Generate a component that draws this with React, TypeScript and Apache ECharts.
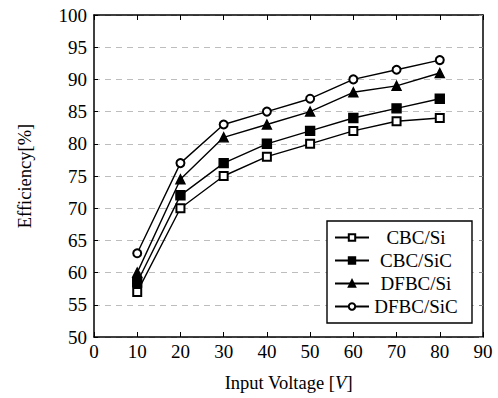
import React, { useEffect, useRef } from "react";
import * as echarts from "echarts";

const voltages = [10, 20, 30, 40, 50, 60, 70, 80];
const cbcSi = [57, 70, 75, 78, 80, 82, 83.5, 84];
const cbcSiC = [58.5, 72, 77, 80, 82, 84, 85.5, 87];
const dfbcSi = [60, 74.5, 81, 83, 85, 88, 89, 91];
const dfbcSiC = [63, 77, 83, 85, 87, 90, 91.5, 93];
const seriesNames = ["CBC/Si", "CBC/SiC", "DFBC/Si", "DFBC/SiC"];

const FONT = "Liberation Serif";
const FS = 19;

export default function App() {
  const ref = useRef<HTMLDivElement>(null);
  useEffect(() => {
    const chart = echarts.init(ref.current!, null, { renderer: "svg" });
    const mk = (name: string, data: number[], symbol: string, size: number) => ({
      name,
      type: "line",
      data: voltages.map((v, i) => [v, data[i]]),
      symbol,
      symbolSize: size,
      showSymbol: true,
      lineStyle: { color: "#000", width: 1.4 },
      itemStyle: { color: "#000", borderColor: "#000", borderWidth: 1.4 },
      emphasis: { disabled: true },
    });
    const axisLine = { show: true, onZero: false, lineStyle: { color: "#000", width: 1.5 } };
    chart.setOption({
      animation: false,
      backgroundColor: "#fff",
      grid: { left: 94, right: 15, top: 15, bottom: 61 },
      xAxis: [
        {
          type: "value",
          min: 0,
          max: 90,
          interval: 10,
          position: "bottom",
          axisLine,
          axisTick: { show: true, inside: true, length: 5, lineStyle: { color: "#000", width: 1 } },
          axisLabel: { color: "#000", fontFamily: FONT, fontSize: FS, margin: 5 },
          splitLine: { show: false },
          name: "{a|Input Voltage [}{i|V}{a|]}",
          nameLocation: "middle",
          nameGap: 36,
          nameTextStyle: {
            fontFamily: FONT,
            fontSize: 18.5,
            rich: {
              a: { color: "#000", fontFamily: FONT, fontSize: 18.5 },
              i: { color: "#000", fontFamily: FONT, fontSize: 18.5, fontStyle: "italic" },
            },
          },
        },
        {
          type: "value",
          min: 0,
          max: 90,
          interval: 10,
          position: "top",
          axisLine,
          axisTick: { show: true, inside: true, length: 5, lineStyle: { color: "#000", width: 1 } },
          axisLabel: { show: false },
          splitLine: { show: false },
        },
      ],
      yAxis: [
        {
          type: "value",
          min: 50,
          max: 100,
          interval: 5,
          position: "left",
          axisLine,
          axisTick: { show: true, inside: true, length: 4, lineStyle: { color: "#000", width: 1 } },
          axisLabel: { color: "#000", fontFamily: FONT, fontSize: FS, margin: 7 },
          splitLine: { show: true, lineStyle: { color: "#bdbdbd", type: [6, 5], width: 1 } },
          name: "Efficiency[%]",
          nameLocation: "middle",
          nameGap: 60,
          nameTextStyle: { color: "#000", fontFamily: FONT, fontSize: 18.5 },
        },
        {
          type: "value",
          min: 50,
          max: 100,
          interval: 5,
          position: "right",
          axisLine,
          axisTick: { show: true, inside: true, length: 4, lineStyle: { color: "#888", width: 1 } },
          axisLabel: { show: false },
          splitLine: { show: false },
        },
      ],
      legend: {
        orient: "vertical",
        left: 327,
        top: 221,
        backgroundColor: "#fff",
        borderColor: "#000",
        borderWidth: 1.4,
        borderRadius: 0,
        padding: [7, 14, 7, 7],
        itemGap: 4,
        itemWidth: 34,
        itemHeight: 8,
        data: seriesNames,
        formatter: (n: string) => `{c|${n}}`,
        textStyle: {
          color: "#000",
          fontFamily: FONT,
          fontSize: FS,
          rich: { c: { width: 84, lineHeight: 20, align: "center", fontFamily: FONT, fontSize: FS, color: "#000" } },
        },
        selectedMode: false,
      },
      series: [
        mk(seriesNames[0], cbcSi, "emptyRect", 8),
        mk(seriesNames[1], cbcSiC, "rect", 9),
        mk(seriesNames[2], dfbcSi, "triangle", 9),
        mk(seriesNames[3], dfbcSiC, "emptyCircle", 8),
      ],
    });
    return () => chart.dispose();
  }, []);
  return <div ref={ref} style={{ position: "fixed", left: 0, top: 0, width: 498, height: 398 }} />;
}
